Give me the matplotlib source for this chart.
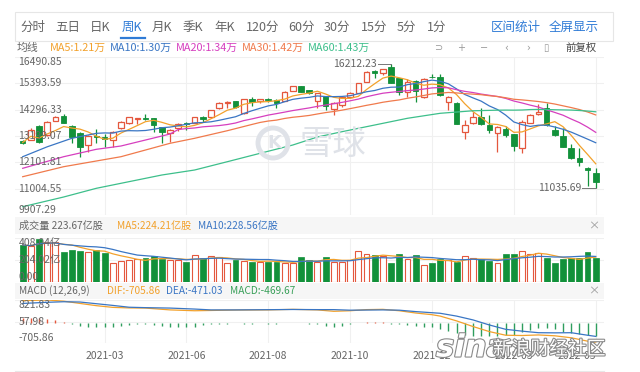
import matplotlib as mpl
mpl.use('Agg')
import matplotlib.pyplot as plt
import matplotlib.patheffects as pe
from matplotlib.patches import Rectangle, Circle
import numpy as np
import pandas as pd

plt.rcParams['font.family'] = ['Noto Sans CJK SC', 'DejaVu Sans']

W, H = 640, 372

# weekly candles
opens = [12970, 13032, 13603, 13240, 13837, 14045, 13603, 13337, 12824, 13199,
         13170, 13032, 13518, 13729, 13895, 13965, 13936, 13560, 13324, 13520,
         13740, 13753, 13980, 14003, 14352, 14588, 14658, 14145, 14728, 14645,
         14755, 14700, 14670, 15073, 15282, 15115, 14670, 14866, 14312, 14490,
         14811, 15003, 15462, 15908, 15837, 16062, 15603, 15045, 15504, 14811,
         15670, 15670, 14630, 14588, 13378, 13729, 13978, 13657, 13310, 13476,
         13270, 12688, 13753, 14108, 14352, 13449, 13199, 12688, 12272, 11880,
         11657]
highs = [13032, 13520, 13660, 13825, 14033, 14116, 13650, 13378, 13240, 13490,
         13280, 13420, 13840, 14010, 13950, 14116, 13960, 13580, 13490, 13740,
         13780, 14000, 14020, 14300, 14600, 14650, 14670, 14760, 14811, 14760,
         14790, 14720, 15060, 15300, 15300, 15130, 15000, 14880, 14620, 14830,
         15020, 15420, 15920, 15930, 16010, 16212.23, 15620, 15560, 15530, 15600,
         15783, 15770, 14850, 14620, 13860, 14200, 14366, 14074, 13620, 13615,
         13300, 13866, 14100, 14533, 14574, 13615, 13532, 12865, 12700, 11900,
         11866]
lows = [12865, 13020, 12895, 13200, 13824, 13740, 12900, 12337, 12545, 12895,
        12740, 12755, 13500, 13700, 13700, 13850, 13378, 12920, 12960, 13408,
        13450, 13740, 13800, 13990, 14330, 14352, 14380, 14120, 14460, 14560,
        14600, 14352, 14650, 15060, 15020, 14950, 14352, 14282, 14074, 14400,
        14790, 14990, 15440, 15600, 15740, 15400, 14907, 14811, 14616, 14780,
        15600, 14880, 14282, 13680, 13087, 13700, 13660, 13320, 12532, 13157,
        12587, 12490, 13720, 14090, 13630, 13200, 12740, 12250, 11948, 11110,
        11035.69]
closes = [12928, 13449, 12963, 13795, 14003, 13753, 13145, 12728, 13199, 13145,
          13087, 13378, 13795, 13978, 13936, 13895, 13657, 13378, 13462, 13699,
          13699, 13978, 13925, 14283, 14561, 14630, 14394, 14728, 14616, 14728,
          14700, 14588, 15045, 15282, 15045, 14978, 14978, 14462, 14588, 14811,
          15003, 15393, 15879, 15810, 15976, 15420, 15045, 15462, 15087, 15560,
          15645, 14907, 14811, 13699, 13657, 14003, 13699, 13449, 13587, 13240,
          12782, 13795, 14074, 14215, 13657, 13240, 12754, 12272, 12129, 11770,
          11282]
# volume, 亿股
volumes = [343, 330, 396, 371, 371, 281, 297, 290, 281, 297,
           266, 173, 198, 204, 210, 220, 241, 210, 204, 204,
           189, 250, 220, 244, 229, 173, 204, 198, 189, 189,
           189, 189, 173, 173, 229, 204, 190, 235, 189, 189,
           204, 290, 260, 250, 241, 173, 260, 210, 250, 158,
           173, 210, 204, 189, 241, 220, 210, 198, 179, 257,
           257, 291, 260, 266, 220, 179, 210, 220, 220, 281,
           223.67]
macd_hist = [200, 190, 180, 164, 120, 40, -40, -100, -130, -140,
             -140, -140, -90, -50, -30, -30, -60, -110, -130, -130,
             -125, -120, -80, -40, -20, -15, -10, -15, -15, -10,
             -16, -20, 0, 10, -10, -15, -20, -100, -120, -100,
             -40, -10, 30, 35, 40, -20, -40, -70, -100, -120,
             -140, -200, -280, -340, -420, -470, -470, -470, -440, -420,
             -420, -310, -230, -160, -160, -210, -300, -360, -400, -420,
             -469.67]

# moving averages before their window is full
ma10_head_idx = [0, 3, 6]
ma10_head = [12336, 12750, 13103]
ma20_head_idx = [0, 5, 9, 12, 15, 18]
ma20_head = [11853, 12336, 12645, 12782, 13032, 13282]
ma30_head_idx = [0, 5, 12, 18, 21, 25, 28]
ma30_head = [11503, 11920, 12336, 12895, 13103, 13420, 13680]
ma60_head_idx = [0, 5, 9, 17, 21, 25, 29, 33, 36, 39, 43, 47, 51, 55, 58]
ma60_head = [10253, 10657, 11020, 11574, 11782, 12128, 12478, 12824, 13157,
             13378, 13657, 13937, 14145, 14250, 14275]

# MACD lines
dif_idx = [0, 3, 5, 7, 9, 11, 13, 15, 18, 21, 23, 26, 30, 33, 36, 38, 40, 42,
           44, 46, 48, 50, 51, 53, 55, 57, 59, 61, 63, 65, 67, 69, 70]
dif = [800, 821.83, 780, 700, 620, 560, 540, 535, 470, 440, 450, 465, 470, 490,
       470, 420, 440, 480, 490, 440, 360, 300, 250, 80, -120, -300, -430, -440,
       -420, -450, -520, -640, -705.86]
dea = [700, 740, 760, 750, 690, 630, 565, 550, 535, 500, 470, 470, 478, 485,
       480, 480, 460, 465, 470, 460, 410, 370, 350, 250, 115, -65, -220, -285,
       -340, -345, -340, -430, -471.03]

price_ticks = [16490.85, 15393.59, 14296.33, 13199.07, 12101.81, 11004.55, 9907.29]
vol_ticks = [408.04, 204.02, 0.0]
vol_tick_labels = ['408.04亿', '204.02亿', '0.00']
macd_ticks = [821.83, 57.98, -705.86]

tick_idx = [10, 20, 30, 40, 50, 60, 70]
tick_labels = ['2021-03', '2021-06', '2021-08', '2021-10', '2021-12', '2022-03', '2022-05']

tabs = ['分时', '五日', '日K', '周K', '月K', '季K', '年K', '120分', '60分', '30分', '15分', '5分', '1分']
tab_x = [20, 55, 90, 122, 152, 183, 214, 246, 288, 324, 361, 397, 427]

RED = '#e4573d'
GREEN = '#12913a'
C_MA5 = '#f2a12c'
C_MA10 = '#3a76c4'
C_MA20 = '#d63fbf'
C_MA30 = '#f07a4c'
C_MA60 = '#3dbf8b'
GRAY = '#666666'
BLUE = '#2f7bd6'


def rect(x0, y0, x1, y1):
    return [x0 / W, 1 - y1 / H, (x1 - x0) / W, (y1 - y0) / H]


fig = plt.figure(figsize=(6.4, 3.72), dpi=100)

under = fig.add_axes([0, 0, 1, 1], zorder=0, label='under')
over = fig.add_axes([0, 0, 1, 1], zorder=10, label='over')
for a in (under, over):
    a.set_xlim(0, W)
    a.set_ylim(H, 0)
    a.axis('off')

# toolbar
under.add_patch(Rectangle((15, 12), 598, 29, facecolor='white', edgecolor='#e6e6e6', lw=0.8))
for t, x in zip(tabs, tab_x):
    over.text(x, 27, t, fontsize=9, color=BLUE if t == '周K' else GRAY, va='center')
over.plot([121, 145], [37.5, 37.5], color=BLUE, lw=1.6)
over.text(491, 27, '区间统计', fontsize=9, color=BLUE, va='center')
over.text(549, 27, '全屏显示', fontsize=9, color=BLUE, va='center')

# MA legend row
legend = [('均线', GRAY, 17), ('MA5:1.21万', C_MA5, 50), ('MA10:1.30万', C_MA10, 110),
          ('MA20:1.34万', C_MA20, 176), ('MA30:1.42万', C_MA30, 242), ('MA60:1.43万', C_MA60, 308)]
for t, c, x in legend:
    over.text(x, 48, t, fontsize=7.8, color=c, va='center')
for s, x in zip(['⊃', '+', '−', '‹', '›', '▯'], [438, 461, 484, 506, 528, 546]):
    over.text(x, 48, s, fontsize=7, color='#999999', va='center', ha='center', family='DejaVu Sans')
over.text(565, 48, '前复权', fontsize=7.5, color='#444444', va='center')

# header bands for the sub panels
under.add_patch(Rectangle((15, 217), 589, 17, facecolor='#f6f6f6', edgecolor='none'))
under.add_patch(Rectangle((15, 283), 589, 16, facecolor='#f6f6f6', edgecolor='none'))
for y in (225.5, 291):
    over.text(594, y, '×', fontsize=8, color='#999999', ha='center', va='center')
for t, c, x in [('成交量 223.67亿股', GRAY, 19), ('MA5:224.21亿股', C_MA5, 117),
                ('MA10:228.56亿股', C_MA10, 198)]:
    over.text(x, 225.5, t, fontsize=7.3, color=c, va='center')
for t, c, x in [('MACD (12,26,9)', GRAY, 19), ('DIF:-705.86', C_MA5, 107),
                ('DEA:-471.03', C_MA10, 166), ('MACD:-469.67', '#3aa05a', 230)]:
    over.text(x, 291, t, fontsize=7.3, color=c, va='center')
under.plot([15, 604], [371, 371], color='#e8e8e8', lw=0.8)

n = len(closes)
xs = np.arange(n)
XL = (-0.94, 71.01)


def panel(y0, y1, ylim, ticks):
    ax = fig.add_axes(rect(15, y0, 604, y1), zorder=2)
    ax.set_facecolor('none')
    ax.set_xlim(*XL)
    ax.set_ylim(*ylim)
    for s in ax.spines.values():
        s.set_visible(False)
    ax.set_yticks(ticks)
    ax.set_xticks(tick_idx)
    ax.grid(color='#f0f0f0', lw=0.8)
    ax.set_axisbelow(True)
    ax.tick_params(length=0, labelleft=False, labelbottom=False)
    return ax


def ylabels(ax, ticks, labels):
    tr = ax.get_yaxis_transform()
    for k, (v, lab) in enumerate(zip(ticks, labels)):
        va = 'top' if k == 0 else ('bottom' if k == len(ticks) - 1 else 'center')
        ax.text(0.006, v, lab, transform=tr, fontsize=7.5, color=GRAY, va=va,
                zorder=10, clip_on=False)


# price panel
ax = panel(57, 215, (price_ticks[-1], price_ticks[0]), price_ticks)
for i in range(n):
    o, h, l, c = opens[i], highs[i], lows[i], closes[i]
    top, bot = max(o, c), min(o, c)
    body = max(top - bot, 12)
    if c >= o:
        ax.vlines(i, top, h, color=RED, lw=0.9, zorder=3)
        ax.vlines(i, l, bot, color=RED, lw=0.9, zorder=3)
        ax.bar(i, body, bottom=bot, width=0.68, facecolor='white', edgecolor=RED, lw=0.9, zorder=3)
    else:
        ax.vlines(i, l, h, color=GREEN, lw=0.9, zorder=3)
        ax.bar(i, body, bottom=bot, width=0.68, facecolor=GREEN, edgecolor=GREEN, lw=0.6, zorder=3)

cl = pd.Series(closes, dtype=float)
ax.plot(xs, cl.rolling(5, min_periods=1).mean(), color=C_MA5, lw=0.9, zorder=4)
for head_idx, head, win, col in [(ma10_head_idx, ma10_head, 10, C_MA10),
                                 (ma20_head_idx, ma20_head, 20, C_MA20),
                                 (ma30_head_idx, ma30_head, 30, C_MA30),
                                 (ma60_head_idx, ma60_head, 60, C_MA60)]:
    tail = cl.rolling(win).mean()
    mx = list(head_idx) + list(xs[win - 1:])
    my = list(head) + list(tail[win - 1:])
    ax.plot(mx, my, color=col, lw=0.9, zorder=4)

ylabels(ax, price_ticks, ['%.2f' % v for v in price_ticks])

ih = int(np.argmax(highs))
il = int(np.argmin(lows))
ax.plot([ih - 1.65, ih], [highs[ih]] * 2, color='#777777', lw=0.7, zorder=5)
ax.text(ih - 1.7, highs[ih], '%.2f' % highs[ih], fontsize=7.5, color=GRAY, ha='right', va='center', zorder=5)
ax.plot([il - 1.65, il], [lows[il]] * 2, color='#777777', lw=0.7, zorder=5)
ax.text(il - 1.7, lows[il], '%.2f' % lows[il], fontsize=7.5, color=GRAY, ha='right', va='center', zorder=5)

# 雪球 watermark
over.add_patch(Circle((273, 143), 15, fill=False, edgecolor='#dfe2e8', lw=3.5))
over.text(274, 143, 'K', fontsize=13, color='#dfe2e8', ha='center', va='center', family='DejaVu Sans',
          fontweight='bold')
over.text(300, 144, '雪球', fontsize=24, color='#dfe2e8', va='center')

# volume panel
axv = panel(238, 282, (0, vol_ticks[0]), vol_ticks)
vol_up = [c >= o for o, c in zip(opens, closes)]
for i in range(n):
    if vol_up[i]:
        axv.bar(i, volumes[i], width=0.72, facecolor='white', edgecolor=RED, lw=0.8, zorder=3)
    else:
        axv.bar(i, volumes[i], width=0.72, facecolor=GREEN, edgecolor=GREEN, lw=0.5, zorder=3)
vs = pd.Series(volumes, dtype=float)
axv.plot(xs, vs.rolling(5, min_periods=1).mean(), color=C_MA5, lw=0.9, zorder=4)
axv.plot(xs, vs.rolling(10, min_periods=1).mean(), color=C_MA10, lw=0.9, zorder=4)
ylabels(axv, vol_ticks, vol_tick_labels)

# MACD panel
axm = panel(300, 343, (macd_ticks[-1], macd_ticks[0]), macd_ticks)
hc = [RED if v >= 0 else '#2f9e5e' for v in macd_hist]
axm.vlines(xs, 0, macd_hist, colors=hc, lw=1.0, zorder=3)
axm.plot(dif_idx, dif, color=C_MA5, lw=0.9, zorder=4)
axm.plot(dif_idx, dea, color=C_MA10, lw=0.9, zorder=4)
ylabels(axm, macd_ticks, ['%.2f' % v for v in macd_ticks])
axm.tick_params(labelbottom=True, pad=6, labelsize=7.5, labelcolor=GRAY)
axm.set_xticklabels(tick_labels)
axm.get_xticklabels()[-1].set_ha('right')

# sina watermark
stroke = [pe.withStroke(linewidth=1.6, foreground='#8a8a8a')]
over.text(436, 348, 'sina', fontsize=22, color='white', fontweight='bold', style='italic',
          va='center', family='DejaVu Sans', path_effects=stroke)
over.text(493, 349, '新浪财经社区', fontsize=13.5, color='white', va='center', path_effects=stroke)

fig.savefig('out.png', dpi=100)
